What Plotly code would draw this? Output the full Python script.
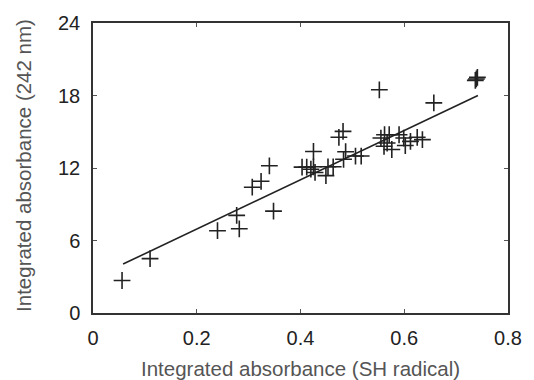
import plotly.graph_objects as go

# Scatter data (integrated absorbance SH radical vs 242 nm)
x_vals = [0.056, 0.110, 0.240, 0.277, 0.282, 0.307, 0.324, 0.340, 0.348,
          0.403, 0.412, 0.425, 0.425, 0.420, 0.428, 0.449, 0.453, 0.463,
          0.474, 0.482, 0.487, 0.483, 0.506, 0.517, 0.552,
          0.555, 0.562, 0.571, 0.561, 0.576, 0.567, 0.590, 0.599, 0.602,
          0.612, 0.625, 0.635, 0.657, 0.739, 0.741, 0.737]
y_vals = [2.69, 4.50, 6.81, 8.08, 6.97, 10.41, 10.90, 12.18, 8.43,
          12.07, 12.07, 13.37, 12.10, 11.90, 11.63, 11.37, 12.10, 12.10,
          14.54, 15.03, 13.35, 12.72, 12.99, 12.99, 18.47,
          14.48, 14.75, 14.75, 13.80, 13.53, 14.07, 14.75, 14.48, 13.86,
          14.20, 14.54, 14.35, 17.39, 19.37, 19.50, 19.25]

# Linear fit line end points
fit_x = [0.058, 0.742]
fit_y = [4.05, 18.0]

x_ticks = [0, 0.2, 0.4, 0.6, 0.8]
x_tick_text = ["0", "0.2", "0.4", "0.6", "0.8"]
y_ticks = [0, 6, 12, 18, 24]
y_tick_text = ["0", "6", "12", "18", "24"]

x_title = "Integrated absorbance (SH radical)"
y_title = "Integrated absorbance (242 nm)"

fig = go.Figure()
fig.add_trace(go.Scatter(x=fit_x, y=fit_y, mode="lines",
                         line=dict(color="#222222", width=1.6), showlegend=False))
fig.add_trace(go.Scatter(x=x_vals, y=y_vals, mode="markers",
                         marker=dict(symbol="cross-thin", size=12,
                                     line=dict(color="#222222", width=1.6)),
                         showlegend=False))

font_family = "Liberation Sans, Arial, sans-serif"
fig.update_layout(
    width=534, height=380,
    margin=dict(l=93, r=20, t=18, b=67),
    paper_bgcolor="white", plot_bgcolor="white",
    font=dict(family=font_family, color="#222222"),
    annotations=[
        dict(text=x_title, xref="paper", yref="paper", x=0.5, y=-0.19,
             xanchor="center", yanchor="middle", showarrow=False,
             font=dict(size=20.5, color="#555555")),
        dict(text=y_title, xref="paper", yref="paper", x=-0.169, y=0.51,
             xanchor="center", yanchor="middle", showarrow=False, textangle=-90,
             font=dict(size=20.5, color="#555555")),
    ],
)
fig.update_xaxes(
    range=[0, 0.8], tickvals=x_ticks, ticktext=x_tick_text,
    showgrid=False, zeroline=False,
    showline=True, linecolor="#333333", linewidth=1.5, mirror="ticks",
    ticks="inside", ticklen=4, tickwidth=1, tickcolor="#555555",
    tickfont=dict(size=20, color="#222222"), ticklabelstandoff=6,
)
fig.update_yaxes(
    range=[0, 24], tickvals=y_ticks, ticktext=y_tick_text,
    showgrid=False, zeroline=False,
    showline=True, linecolor="#333333", linewidth=1.5, mirror="ticks",
    ticks="inside", ticklen=4, tickwidth=1, tickcolor="#555555",
    tickfont=dict(size=20, color="#222222"), ticklabelstandoff=7,
)

fig.write_html("out.html")
